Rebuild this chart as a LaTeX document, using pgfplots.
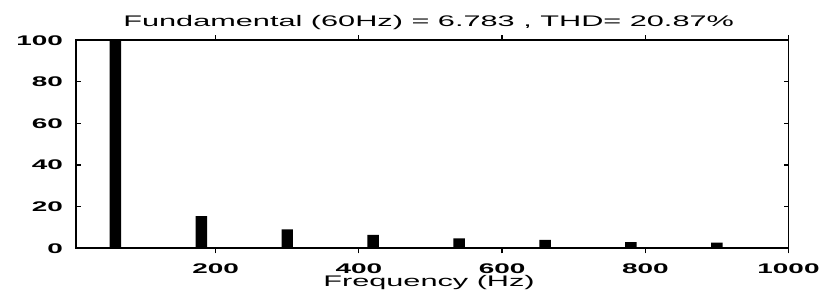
\documentclass[border=0pt]{standalone}
\usepackage{fontspec}
\setmainfont{Liberation Sans}[FakeStretch=2.0]
\usepackage{pgfplots}
\pgfplotsset{compat=1.18}
\begin{document}
\begin{tikzpicture}
\path (-76bp,-45.7bp) rectangle (752bp,248.3bp);
\begin{axis}[
  at={(0,0)}, anchor=south west,
  scale only axis,
  width=712.5bp, height=208bp,
  xmin=5, xmax=1000, ymin=0, ymax=100,
  xtick={200,400,600,800,1000},
  ytick={0,20,40,60,80,100},
  tick align=inside,
  major tick length=5bp,
  axis line style={line width=1.6bp},
  major tick style={line width=1.2bp, black},
  /pgf/number format/assume math mode=true,
  /pgf/number format/1000 sep={},
  ticklabel style={font=\bfseries\fontsize{14}{14}\selectfont, inner sep=0pt},
  xticklabel style={anchor=base, yshift=-20bp},
  yticklabel style={anchor=east, xshift=-13bp},
  ybar, bar width=16,
  clip=false,
]
\addplot[fill=black, draw=none] coordinates {
  (60,100) (180,15.5) (300,9.1) (420,6.4) (540,4.8) (660,4.0) (780,3.0) (900,2.7)
};
\node[anchor=base, inner sep=0pt, font=\fontsize{15.4}{16}\selectfont]
  at (axis description cs:0.495,1.064) {Fundamental (60Hz) = 6.783 , THD= 20.87\%};
\node[anchor=base, inner sep=0pt, font=\fontsize{15.4}{16}\selectfont]
  at (axis description cs:0.4955,-0.186) {Frequency (Hz)};
\end{axis}
\end{tikzpicture}
\end{document}
